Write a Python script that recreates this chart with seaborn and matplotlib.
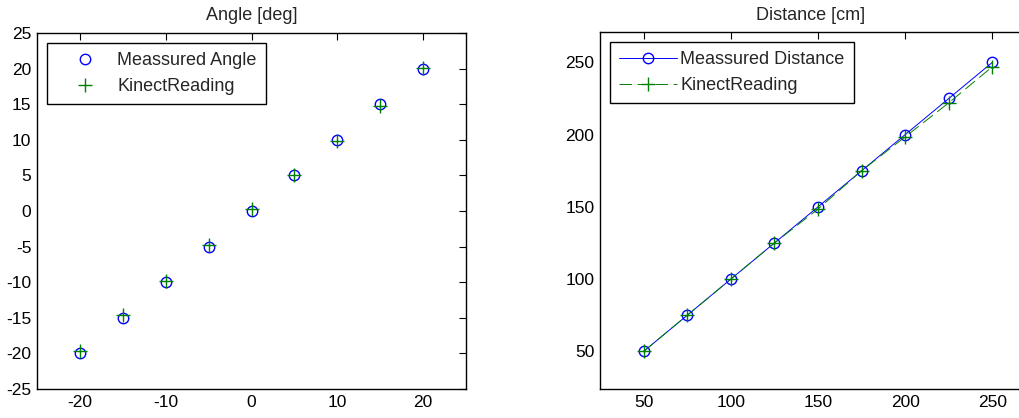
import numpy as np
import matplotlib
matplotlib.use("Agg")
import matplotlib.pyplot as plt
import seaborn as sns

# Angle test: set angle vs. angle reported by the Kinect
angle_measured = [-20, -15, -10, -5, 0, 5, 10, 15, 20]
angle_kinect = [-19.6, -14.6, -9.8, -4.8, 0.3, 5.0, 9.9, 14.8, 20.1]

# Distance test: tape-measured distance vs. Kinect depth reading
dist_measured = [50, 75, 100, 125, 150, 175, 200, 225, 250]
dist_kinect = [50, 75, 100, 125, 148.5, 175, 198.5, 222, 247]

sns.set_theme(style="white")
plt.rcParams["font.family"] = ["Liberation Sans", "DejaVu Sans"]
plt.rcParams["axes.unicode_minus"] = False
plt.rcParams["lines.scale_dashes"] = False
FS_TICK = 12.5
FS_TEXT = 13

BLUE = (0, 0, 1)
GREEN = (0, 0.5, 0)

fig = plt.figure(figsize=(10.19, 4.18), dpi=100)
ax1 = fig.add_axes([37 / 1019, 1 - 389 / 418, 429 / 1019, 356 / 418])
ax2 = fig.add_axes([600 / 1019, 1 - 389 / 418, 429 / 1019, 357 / 418])

# Left: markers only
sns.lineplot(x=angle_measured, y=angle_measured, ax=ax1,
             linestyle="none", marker="o", markersize=7.5, mfc="none",
             mec=BLUE, mew=1.0, label="Meassured Angle", sort=False)
sns.lineplot(x=angle_measured, y=angle_kinect, ax=ax1,
             linestyle="none", marker="+", markersize=10, mec=GREEN,
             mew=1.0, label="KinectReading", sort=False)

# Right: lines with markers
sns.lineplot(x=dist_measured, y=dist_measured, ax=ax2, color=BLUE,
             linewidth=0.7, marker="o", markersize=7.5, mfc="none", mec=BLUE,
             mew=1.0, label="Meassured Distance", sort=False)
sns.lineplot(x=dist_measured, y=dist_kinect, ax=ax2, color=GREEN,
             linewidth=0.7, linestyle=(0, (9, 4)), marker="+", markersize=10,
             mec=GREEN, mew=1.0, label="KinectReading", sort=False)

ax1.set_xlim(-25, 25)
ax1.set_ylim(-25, 25)
ax1.set_xticks(np.arange(-20, 21, 10))
ax1.set_yticks(np.arange(-25, 26, 5))
ax1.set_title("Angle [deg]", fontsize=FS_TEXT, pad=9)

ax2.set_xlim(25, 271)
ax2.set_ylim(24, 271)
ax2.set_xticks(np.arange(50, 251, 50))
ax2.set_yticks(np.arange(50, 251, 50))
ax2.set_title("Distance [cm]", fontsize=FS_TEXT, pad=9)
ax2.title.set_position((0.49, 1.0))

for ax in (ax1, ax2):
    ax.set_xlabel("")
    ax.set_ylabel("")
    for sp in ax.spines.values():
        sp.set_visible(True)
        sp.set_color("black")
        sp.set_linewidth(1.0)
    ax.tick_params(direction="in", length=5, width=0.8, color="black",
                   top=True, right=True, labelsize=FS_TICK, labelcolor="black",
                   pad=4)
    ax.grid(False)
    leg = ax.legend(loc="upper left", frameon=True, fancybox=False,
                    edgecolor="black", framealpha=1, fontsize=FS_TEXT,
                    handlelength=3.2, handletextpad=0.2, borderpad=0.5,
                    labelspacing=0.5, borderaxespad=0.55)
    leg.get_frame().set_linewidth(1.0)

fig.savefig("out.png", dpi=100)
